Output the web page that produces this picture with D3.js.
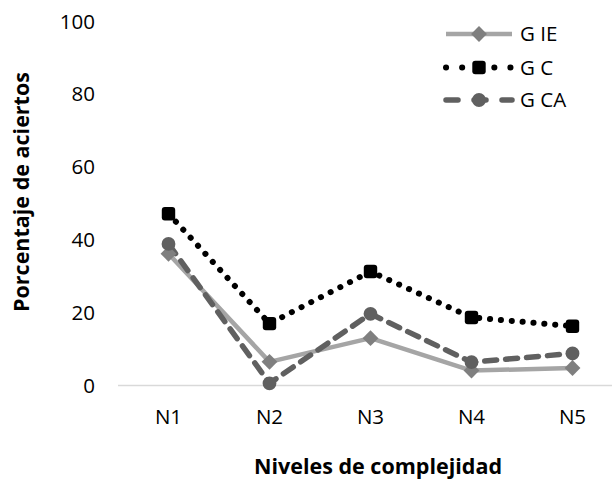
<!DOCTYPE html>
<html><head><meta charset="utf-8">
<script src="https://cdn.jsdelivr.net/npm/d3@7"></script>
<style>body{margin:0;background:#fff}svg{display:block}text{font-family:"Open Sans",Lato,sans-serif;fill:#000}</style>
</head><body><svg id="c" width="612" height="484"></svg>
<script>
const categories = ["N1","N2","N3","N4","N5"];
const gIE = [36.2, 6.5, 13.0, 4.1, 4.8];
const gC  = [47.2, 17.0, 31.3, 18.7, 16.3];
const gCA = [38.9, 0.6, 19.7, 6.4, 8.8];
const seriesNames = ["G IE","G C","G CA"];
const yTicks = [0,20,40,60,80,100];

const svg = d3.select("#c");
const x = d3.scaleBand().domain(categories).range([118, 623]);
const y = d3.scaleLinear().domain([0,100]).range([385.5, 21.5]);
const cx = d => x(d) + x.bandwidth()/2;

const styles = [
  {name:seriesNames[0], data:gIE, stroke:"#a5a5a5", width:4.5, dash:null, ldash:null, cap:"butt", marker:"diamond", mfill:"#7f7f7f", size:160},
  {name:seriesNames[1], data:gC,  stroke:"#000000", width:6, dash:"0.1 10.8", ldash:"0.1 16", cap:"round", marker:"square", mfill:"#000000", size:180},
  {name:seriesNames[2], data:gCA, stroke:"#606060", width:5.5, dash:"12 9", ldash:"12 16", cap:"round", marker:"circle", mfill:"#606060", size:150}
];

// axis line
svg.append("line").attr("x1",118).attr("x2",612).attr("y1",y(0)).attr("y2",y(0))
  .attr("stroke","#d9d9d9").attr("stroke-width",1.5);

// y tick labels
const yAxis = d3.axisLeft(y).tickValues(yTicks).tickSize(0).tickPadding(0);
const gy = svg.append("g").attr("transform","translate(95,0)").call(yAxis);
gy.select(".domain").remove();
gy.selectAll("text").attr("font-size",20.5).style("font-family",'"Open Sans",sans-serif').attr("fill","#000");

// x tick labels
const xAxis = d3.axisBottom(x).tickSize(0).tickPadding(0);
const gx = svg.append("g").attr("transform","translate(0,409)").call(xAxis);
gx.select(".domain").remove();
gx.selectAll("text").attr("font-size",20.5).style("font-family",'"Open Sans",sans-serif').attr("fill","#000");

// axis titles
svg.append("text").attr("x",378).attr("y",474).attr("text-anchor","middle")
  .attr("font-size",21.5).attr("font-weight","bold").text("Niveles de complejidad");
svg.append("text").attr("transform","translate(29,192) rotate(-90)").attr("text-anchor","middle")
  .attr("font-size",21.5).attr("font-weight","bold").text("Porcentaje de aciertos");

const symType = {diamond:d3.symbolDiamond2, square:d3.symbolSquare, circle:d3.symbolCircle};
function marker(g, s, px, py, scale){
  if (s.marker==="square"){
    const w = Math.sqrt(s.size)*scale;
    g.append("rect").attr("x",px-w/2).attr("y",py-w/2).attr("width",w).attr("height",w)
      .attr("rx",3).attr("fill",s.mfill);
  } else {
    g.append("path").attr("d", d3.symbol().type(symType[s.marker]).size(s.size*scale*scale)())
      .attr("transform",`translate(${px},${py})`).attr("fill",s.mfill);
  }
}

const line = d3.line().x((d,i)=>cx(categories[i])).y(d=>y(d));
styles.forEach(s=>{
  svg.append("path").datum(s.data).attr("d",line).attr("fill","none")
    .attr("stroke",s.stroke).attr("stroke-width",s.width).attr("stroke-linecap",s.cap)
    .attr("stroke-linejoin","round").attr("stroke-dasharray",s.dash);
});
styles.forEach(s=>{
  const g = svg.append("g");
  s.data.forEach((v,i)=>marker(g,s,cx(categories[i]),y(v),1));
});

// legend
const legY = [34, 67.5, 100];
styles.forEach((s,i)=>{
  const g = svg.append("g");
  g.append("line").attr("x1",446).attr("x2",512).attr("y1",legY[i]).attr("y2",legY[i])
    .attr("stroke",s.stroke).attr("stroke-width",s.width).attr("stroke-linecap",s.cap)
    .attr("stroke-dasharray",s.ldash);
  marker(g,s,479,legY[i],1);
  g.append("text").attr("x",520).attr("y",legY[i]).attr("dy","0.35em")
    .attr("font-size",20.5).text(s.name);
});
</script></body></html>
